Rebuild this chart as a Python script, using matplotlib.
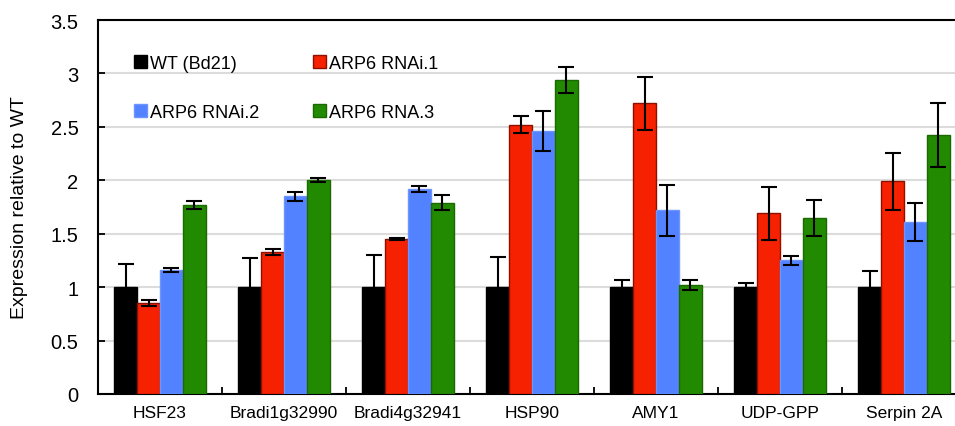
import numpy as np
import matplotlib
matplotlib.use("Agg")
import matplotlib.pyplot as plt

plt.rcParams["font.family"] = ["Liberation Sans", "DejaVu Sans"]

genes = ["HSF23", "Bradi1g32990", "Bradi4g32941", "HSP90", "AMY1", "UDP-GPP", "Serpin 2A"]
series = ["WT (Bd21)", "ARP6 RNAi.1", "ARP6 RNAi.2", "ARP6 RNA.3"]

wt = [1.0, 1.0, 1.0, 1.0, 1.0, 1.0, 1.0]
wt_err = [0.22, 0.27, 0.30, 0.28, 0.07, 0.04, 0.15]
rnai1 = [0.85, 1.33, 1.45, 2.52, 2.72, 1.69, 1.99]
rnai1_err = [0.03, 0.03, 0.01, 0.08, 0.25, 0.25, 0.27]
rnai2 = [1.16, 1.85, 1.92, 2.46, 1.72, 1.25, 1.61]
rnai2_err = [0.02, 0.04, 0.03, 0.19, 0.24, 0.04, 0.18]
rna3 = [1.77, 2.00, 1.79, 2.94, 1.02, 1.65, 2.42]
rna3_err = [0.04, 0.02, 0.07, 0.12, 0.05, 0.17, 0.30]

values = [wt, rnai1, rnai2, rna3]
errors = [wt_err, rnai1_err, rnai2_err, rna3_err]
colors = ["#000000", "#F62100", "#5282FF", "#228A00"]
edges = ["#000000", "#8E1000", "#6E95FF", "#1A6A00"]

fig = plt.figure(figsize=(9.55, 4.27), dpi=100)
ax = fig.add_axes([98 / 955, 1 - 395 / 427, 868 / 955, 374 / 427])

x = np.arange(len(genes))
w = 0.185
bars = []
for i in range(4):
    b = ax.bar(x + (i - 1.5) * w, values[i], w, color=colors[i], edgecolor=edges[i],
               linewidth=1.0, label=series[i], zorder=3)
    bars.append(b)
    ax.errorbar(x + (i - 1.5) * w, values[i], yerr=errors[i], fmt="none",
                ecolor="black", elinewidth=1.5, capsize=5.5, capthick=1.5, zorder=4)

ax.set_xlim(-0.5, len(genes) - 0.5)
ax.set_ylim(0, 3.5)
ax.set_yticks([0, 0.5, 1, 1.5, 2, 2.5, 3, 3.5])
ax.set_yticklabels(["0", "0.5", "1", "1.5", "2", "2.5", "3", "3.5"], fontsize=14.5)
ax.yaxis.grid(True, color="#dcdcdc", linewidth=1.5, zorder=0)
ax.set_axisbelow(True)

ax.set_xticks(np.arange(len(genes) - 1) + 0.5)
ax.set_xticklabels([])
ax.set_xticks(x, minor=True)
ax.set_xticklabels(genes, minor=True, fontsize=12.5)
ax.tick_params(axis="x", which="major", direction="in", length=5, width=1.3)
ax.tick_params(axis="x", which="minor", length=0, pad=8)
ax.tick_params(axis="y", direction="in", length=5, width=1.3, pad=14)

for s in ax.spines.values():
    s.set_linewidth(1.5)

ax.set_ylabel("Expression relative to WT", fontsize=14)
ax.yaxis.set_label_coords(-0.081, 0.5)

# rows: WT, RNAi.1 / RNAi.2, RNA.3
order = [0, 2, 1, 3]
ax.legend([bars[k] for k in order], [series[k] for k in order],
          loc="upper left", bbox_to_anchor=(0.023, 0.95), ncol=2, frameon=False,
          fontsize=13, handlelength=0.7, handleheight=0.7, handletextpad=0.2,
          labelspacing=1.75, columnspacing=2.95)

plt.savefig("out.png", dpi=100)
